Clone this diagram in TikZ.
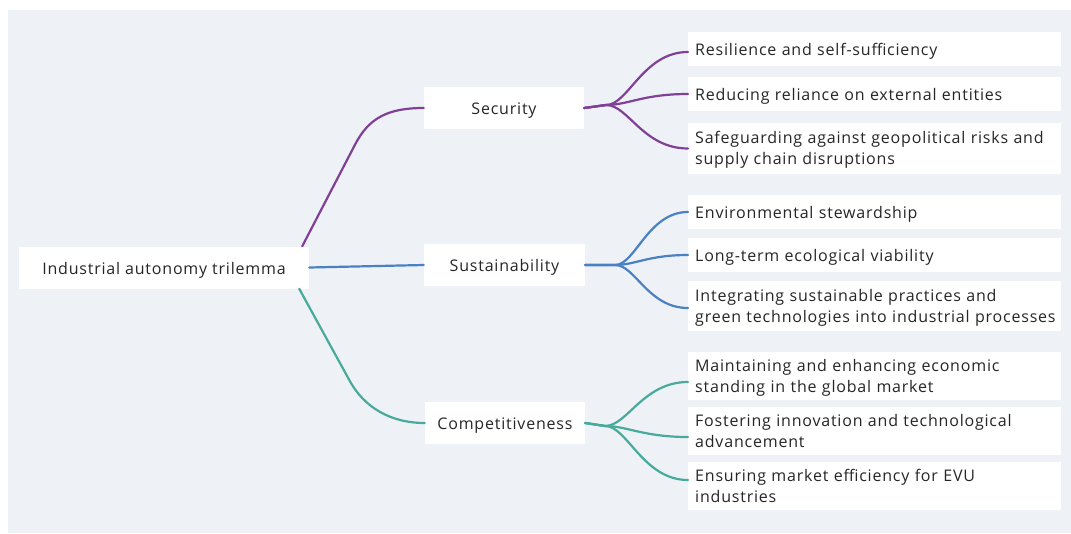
\documentclass[tikz,border=0pt]{standalone}
\usepackage{fontspec}
\setmainfont[LetterSpace=5]{Open Sans}
\usepackage{xcolor}
\usetikzlibrary{positioning, calc}

\definecolor{bgcol}{HTML}{EEF2F6}
\definecolor{txtcol}{HTML}{262626}
\definecolor{purp}{HTML}{804098}
\definecolor{bluel}{HTML}{4A80C4}
\definecolor{teal}{HTML}{48AA9B}

\begin{document}
\begin{tikzpicture}[
  x=1pt, y=-1pt,
  font=\fontsize{16}{21}\selectfont,
  topic/.style={fill=white, minimum height=42, text height=17, text depth=4, text=txtcol},
  leaf/.style={fill=white, anchor=west, text width=359, inner xsep=7, inner ysep=0, align=left, minimum height=34, text height=17, text depth=4, text=txtcol},
  twoleaf/.style={leaf, text height=15, text depth=25}
]
  \useasboundingbox (0,0) rectangle (1071,533);
  \fill[bgcol] (8,10) rectangle (1071,533);
  \tikzset{link/.style={line width=2.2, line cap=round}}

  \node[topic, minimum width=290] (root) at (164,267.5) {Industrial autonomy trilemma};

  \node[topic, minimum width=160] (sec) at (504,108) {Security};
  \node[topic, minimum width=161] (sus) at (504.5,265) {Sustainability};
  \node[topic, minimum width=160] (comp) at (505,423) {Competitiveness};

  \node[leaf] (s1) at (688,49) {Resilience and self-sufficiency};
  \node[leaf] (s2) at (688,94) {Reducing reliance on external entities};
  \node[twoleaf, minimum height=51] (s3) at (688,148.5) {Safeguarding against geopolitical risks and\\supply chain disruptions};

  \node[leaf] (u1) at (688,212) {Environmental stewardship};
  \node[leaf] (u2) at (688,255) {Long-term ecological viability};
  \node[twoleaf, minimum height=50] (u3) at (688,306) {Integrating sustainable practices and\\green technologies into industrial processes};

  \node[twoleaf, minimum height=48] (c1) at (688,376) {Maintaining and enhancing economic\\standing in the global market};
  \node[twoleaf, minimum height=48] (c2) at (688,431) {Fostering innovation and technological\\advancement};
  \node[twoleaf, minimum height=48] (c3) at (688,486) {Ensuring market efficiency for EVU\\industries};

  % root to topics
  \draw[link, purp] ([xshift=-7]root.north east) -- ++(53,-102) .. controls +(14,-27) and +(-35,0) .. (sec.west);
  \draw[link, bluel] (root.east) -- (sus.west);
  \draw[link, teal] ([xshift=-10]root.south east) -- ++(51,93) .. controls +(14,25) and +(-35,0) .. (comp.west);

  % security
  \draw[link, purp] (sec.east) -- ++(22,-3) .. controls +(22,0) and +(-45,0) .. ([yshift=-3]s1.west);
  \draw[link, purp] (sec.east) -- ++(22,-3) .. controls +(22,0) and +(-45,0) .. (s2.west);
  \draw[link, purp] (sec.east) -- ++(22,-3) .. controls +(22,0) and +(-45,0) .. (s3.west);

  % sustainability
  \draw[link, bluel] (sus.east) -- ++(30,0) .. controls +(20,0) and +(-40,0) .. (u1.west);
  \draw[link, bluel] (sus.east) -- ++(30,0) .. controls +(20,0) and +(-40,0) .. (u2.west);
  \draw[link, bluel] (sus.east) -- ++(30,0) .. controls +(20,0) and +(-40,0) .. ([yshift=-2]u3.west);

  % competitiveness
  \draw[link, teal] (comp.east) -- ++(20,3) .. controls +(22,0) and +(-45,0) .. ([yshift=-6]c1.west);
  \draw[link, teal] (comp.east) -- ++(20,3) .. controls +(22,0) and +(-45,0) .. ([yshift=-6]c2.west);
  \draw[link, teal] (comp.east) -- ++(20,3) .. controls +(22,0) and +(-45,0) .. ([yshift=6]c3.west);
\end{tikzpicture}
\end{document}
